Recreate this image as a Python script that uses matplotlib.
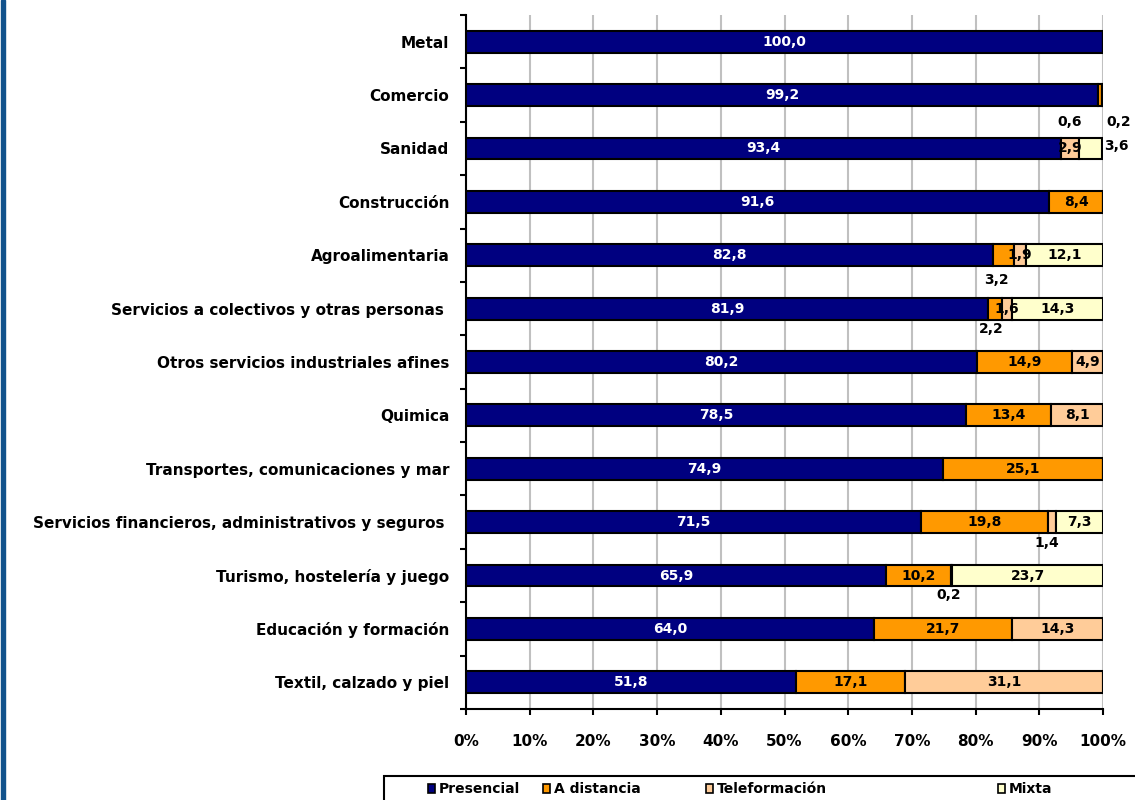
import numpy as np
import matplotlib
matplotlib.use("Agg")
import matplotlib.pyplot as plt
from matplotlib.patches import Rectangle

plt.rcParams['font.family'] = ['DejaVu Sans']
plt.rcParams['font.weight'] = 'bold'

# Distribución de la modalidad de formación por sector (%)
sectores = [
    "Metal",
    "Comercio",
    "Sanidad",
    "Construcción",
    "Agroalimentaria",
    "Servicios a colectivos y otras personas ",
    "Otros servicios industriales afines",
    "Quimica",
    "Transportes, comunicaciones y mar",
    "Servicios financieros, administrativos y seguros ",
    "Turismo, hostelería y juego",
    "Educación y formación",
    "Textil, calzado y piel",
]
presencial = [100.0, 99.2, 93.4, 91.6, 82.8, 81.9, 80.2, 78.5, 74.9, 71.5, 65.9, 64.0, 51.8]
a_distancia = [0.0, 0.6, 0.0, 8.4, 3.2, 2.2, 14.9, 13.4, 25.1, 19.8, 10.2, 21.7, 17.1]
teleformacion = [0.0, 0.0, 2.9, 0.0, 1.9, 1.6, 4.9, 8.1, 0.0, 1.4, 0.2, 14.3, 31.1]
mixta = [0.0, 0.2, 3.6, 0.0, 12.1, 14.3, 0.0, 0.0, 0.0, 7.3, 23.7, 0.0, 0.0]

series = ["Presencial", "A distancia", "Teleformación", "Mixta"]
colores = ["#000080", "#FF9900", "#FFCC99", "#FFFFCC"]
color_texto = ["white", "black", "black", "black"]

# etiquetas pequeñas desplazadas fuera del segmento: (fila, serie) -> (dx %, dy filas)
desplazamientos = {
    (1, 1): (-4.7, 0.5),
    (1, 3): (2.6, 0.5),
    (2, 3): (4.0, -0.05),
    (4, 1): (-1.1, 0.46),
    (5, 1): (-0.6, 0.38),
    (9, 2): (-0.8, 0.39),
    (10, 2): (-0.4, 0.36),
}

fig = plt.figure(figsize=(11.35, 8), dpi=100)
ax = fig.add_axes([466 / 1135, 1 - 709 / 800, 637 / 1135, 694 / 800])

y = np.arange(len(sectores))
valores = [presencial, a_distancia, teleformacion, mixta]
izquierda = np.zeros(len(sectores))
for k, vals in enumerate(valores):
    vals = np.array(vals)
    ax.barh(y, vals, left=izquierda, height=0.41, color=colores[k],
            edgecolor="black", linewidth=1.5, zorder=3, label=series[k])
    for i, v in enumerate(vals):
        if v <= 0:
            continue
        cx = izquierda[i] + v / 2
        cy = y[i]
        col = color_texto[k]
        if (i, k) in desplazamientos:
            dx, dy = desplazamientos[(i, k)]
            cx += dx
            cy += dy
            col = "black"
        ax.text(cx, cy, f"{v:.1f}".replace(".", ","), ha="center", va="center",
                fontsize=10, fontweight="bold", color=col, zorder=5, clip_on=False)
    izquierda += vals

ax.set_xlim(0, 100)
ax.set_ylim(len(sectores) - 0.5, -0.5)

ax.set_xticks(np.arange(0, 101, 10))
ax.set_xticklabels([f"{t}%" for t in range(0, 101, 10)], fontsize=11, fontweight="bold")
ax.tick_params(axis="x", direction="out", length=4, width=1.5, pad=14)

ax.set_yticks(np.arange(-0.5, len(sectores), 1.0))
ax.set_yticklabels([])
ax.set_yticks(y, minor=True)
ax.set_yticklabels(sectores, minor=True, fontsize=11, fontweight="bold")
ax.tick_params(axis="y", which="major", direction="out", length=4, width=1.5)
ax.tick_params(axis="y", which="minor", length=0, pad=12)

ax.grid(axis="x", color="#c0c0c0", linewidth=1.5, zorder=0)
ax.set_axisbelow(True)
for lado in ["top", "right"]:
    ax.spines[lado].set_visible(False)
for lado in ["left", "bottom"]:
    ax.spines[lado].set_linewidth(1.5)

# franja azul del borde izquierdo
fig.patches.append(Rectangle((0.5 / 1135, 0), 4.8 / 1135, 1, transform=fig.transFigure,
                             color="#11528c", zorder=0))

# leyenda inferior
fig.patches.append(Rectangle((384 / 1135, -0.02), 820 / 1135, 0.02 + 24 / 800,
                             transform=fig.transFigure, facecolor="white",
                             edgecolor="black", linewidth=1.5))
pos_leyenda = [428, 543, 706, 998]
for k, nombre in enumerate(series):
    x0 = pos_leyenda[k] / 1135
    fig.patches.append(Rectangle((x0, 1 - 793 / 800), 7 / 1135, 9 / 800,
                                 transform=fig.transFigure, facecolor=colores[k],
                                 edgecolor="black", linewidth=1.2))
    fig.text(x0 + 11 / 1135, 1 - 789 / 800, nombre, ha="left", va="center",
             fontsize=10, fontweight="bold")

fig.savefig("out.png", dpi=100)
